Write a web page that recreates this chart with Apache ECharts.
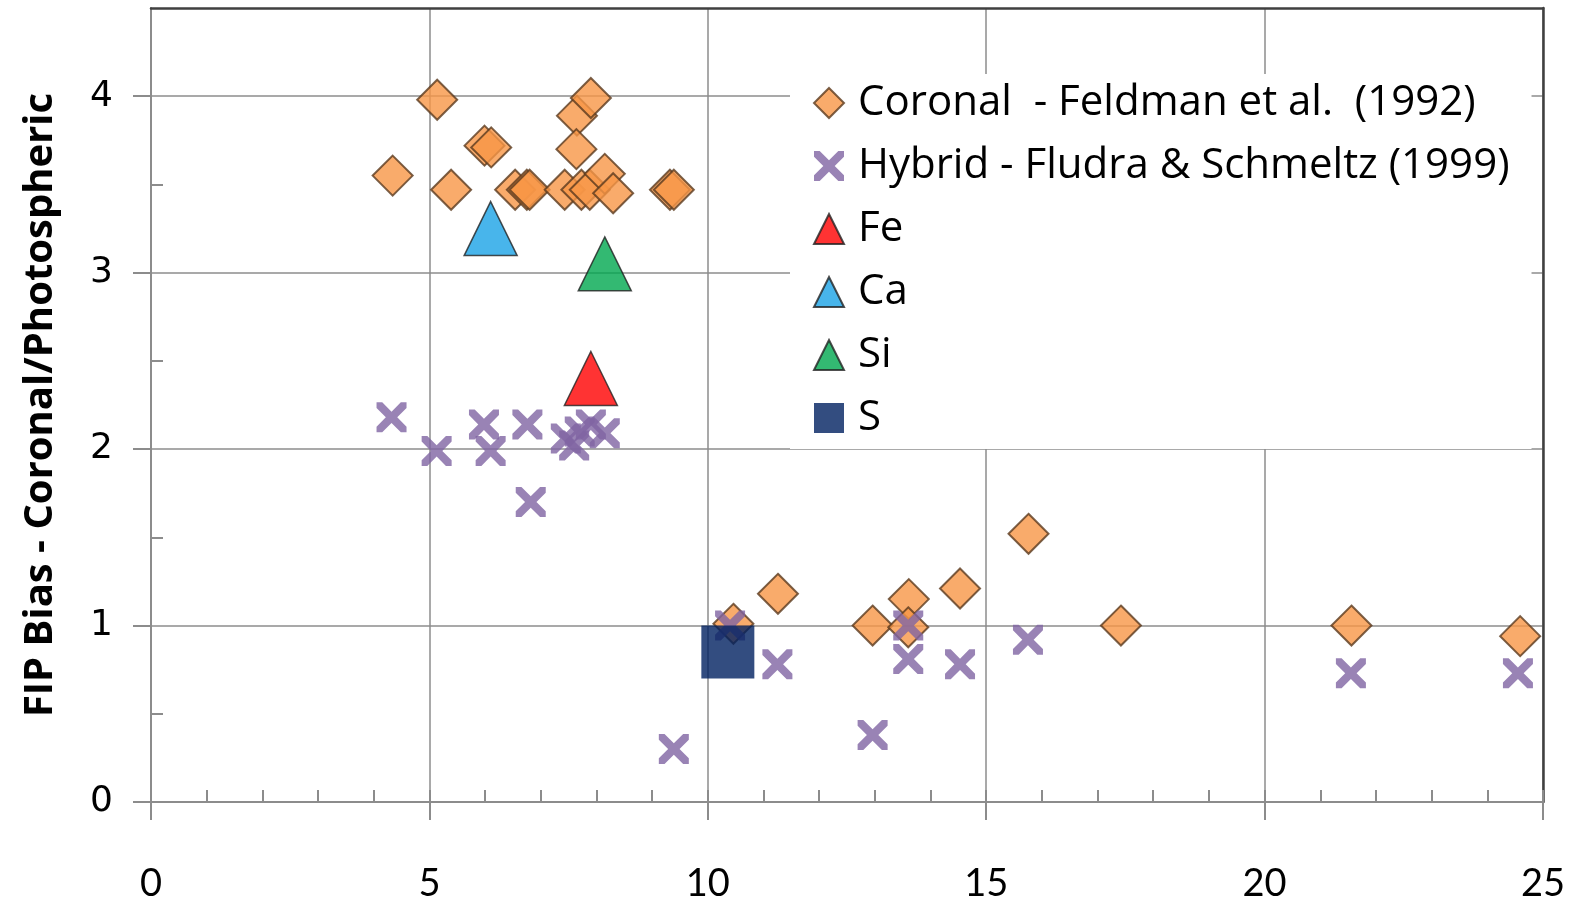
<!DOCTYPE html>
<html>
<head>
<meta charset="utf-8">
<script src="https://cdn.jsdelivr.net/npm/echarts@6/dist/echarts.min.js"></script>
<style>
  html, body { margin: 0; padding: 0; background: #fff; }
  #chart { width: 1578px; height: 899px; }
</style>
</head>
<body>
<div id="chart"></div>
<script>
// [FIP (eV), bias]
const coronalPoints = [
  [4.34, 3.55], [5.14, 3.98], [5.39, 3.47], [5.99, 3.72], [6.11, 3.71],
  [6.54, 3.47], [6.75, 3.47], [6.8, 3.47], [7.43, 3.47], [7.65, 3.89],
  [7.9, 3.99], [7.64, 3.7], [7.73, 3.47], [7.88, 3.47], [8.15, 3.56],
  [8.3, 3.45], [9.32, 3.47], [9.39, 3.47], [10.46, 1.01], [11.26, 1.18],
  [12.96, 1.0], [13.61, 1.15], [13.6, 0.99], [14.53, 1.21], [15.76, 1.52],
  [17.42, 1.0], [21.56, 1.0], [24.59, 0.94]
]
const hybridPoints = [
  [4.32, 2.18], [5.13, 1.99], [5.98, 2.14], [6.1, 1.99], [6.76, 2.14],
  [6.82, 1.7], [7.45, 2.06], [7.6, 2.02], [7.7, 2.1], [7.9, 2.14],
  [8.15, 2.09], [9.39, 0.3], [10.4, 1.0], [11.25, 0.78], [12.96, 0.38],
  [13.6, 1.0], [13.6, 0.81], [14.53, 0.78], [15.75, 0.92], [21.55, 0.73],
  [24.55, 0.73]
]
const fePoint = [[7.9, 2.4]]
const caPoint = [[6.1, 3.25]]
const siPoint = [[8.15, 3.05]]
const sPoint = [[10.36, 0.85]]

const yTickValues = [0, 1, 2, 3, 4]
const yMinorValues = [0.5, 1.5, 2.5, 3.5]

const seriesNames = [
  'Coronal  - Feldman et al.  (1992)',
  'Hybrid - Fludra & Schmeltz (1999)',
  'Fe',
  'Ca',
  'Si',
  'S'
]

const crossPath = 'path://M0,0 L1.9,0 L5,3.1 L8.1,0 L10,0 L10,1.9 L6.9,5 L10,8.1 L10,10 L8.1,10 L5,6.9 L1.9,10 L0,10 L0,8.1 L3.1,5 L0,1.9 Z'

const gridColor = '#8c8c8c'
const borderColor = '#404040'

const chart = echarts.init(document.getElementById('chart'))

// plain frame axes (top / right border of the plot area)
const frameAxis = {
  type: 'value',
  min: 0,
  axisLine: { show: true, onZero: false, lineStyle: { color: borderColor, width: 2.5 } },
  axisTick: { show: false },
  axisLabel: { show: false },
  splitLine: { show: false }
}

const option = {
  animation: false,
  backgroundColor: '#fff',
  grid: {
    left: 151,
    right: 35,
    top: 8,
    bottom: 97,
    outerBoundsMode: 'none'
  },
  legend: {
    orient: 'vertical',
    left: 790,
    top: 74,
    padding: [8, 22, 10, 23],
    backgroundColor: '#fff',
    itemWidth: 30,
    itemHeight: 30,
    itemGap: 21,
    selectedMode: false,
    textStyle: {
      fontFamily: 'Open Sans',
      fontSize: 42,
      lineHeight: 40,
      padding: [0, 0, 0, 9],
      color: '#000'
    },
    data: seriesNames
  },
  xAxis: [
    {
      type: 'value',
      position: 'bottom',
      min: 0,
      max: 25,
      interval: 5,
      axisLine: { show: true, onZero: false, lineStyle: { color: gridColor, width: 2 } },
      axisTick: { show: true, inside: false, length: 18, lineStyle: { color: gridColor, width: 2 } },
      axisLabel: { fontFamily: 'Lato', fontSize: 38, color: '#000', margin: 63 },
      splitLine: { show: true, lineStyle: { color: gridColor, width: 1.5 } }
    },
    {
      type: 'value',
      position: 'bottom',
      min: 0,
      max: 25,
      interval: 1,
      axisLine: { show: false, onZero: false },
      axisTick: { show: true, inside: true, length: 12, lineStyle: { color: gridColor, width: 2 } },
      axisLabel: { show: false },
      splitLine: { show: false }
    },
    Object.assign({}, frameAxis, { position: 'top', max: 25 })
  ],
  yAxis: [
    {
      type: 'value',
      position: 'left',
      min: 0,
      max: 4.5,
      interval: 1,
      name: 'FIP Bias - Coronal/Photospheric',
      nameLocation: 'middle',
      nameGap: 90,
      nameTextStyle: { fontFamily: 'Open Sans', fontSize: 40, fontWeight: 'bold', color: '#000' },
      axisLine: { show: true, onZero: false, lineStyle: { color: gridColor, width: 2 } },
      axisTick: { show: true, inside: false, length: 18, customValues: yTickValues, lineStyle: { color: gridColor, width: 2 } },
      axisLabel: { fontFamily: 'DejaVu Sans', fontSize: 36, color: '#000', margin: 38, customValues: yTickValues },
      splitLine: { show: true, lineStyle: { color: gridColor, width: 1.5 } }
    },
    {
      type: 'value',
      position: 'left',
      min: 0,
      max: 4.5,
      axisLine: { show: false, onZero: false },
      axisTick: { show: true, inside: true, length: 12, customValues: yMinorValues, lineStyle: { color: gridColor, width: 2 } },
      axisLabel: { show: false },
      splitLine: { show: false }
    },
    Object.assign({}, frameAxis, { position: 'right', max: 4.5 })
  ],
  series: [
    {
      name: seriesNames[0],
      type: 'scatter',
      symbol: 'diamond',
      symbolSize: 40,
      itemStyle: { color: '#f79646', borderColor: '#5a3a1e', borderWidth: 2 },
      data: coronalPoints
    },
    {
      name: seriesNames[1],
      type: 'scatter',
      symbol: crossPath,
      symbolSize: 30,
      itemStyle: { color: '#8064a2' },
      data: hybridPoints
    },
    {
      name: seriesNames[2],
      type: 'scatter',
      symbol: 'triangle',
      symbolSize: [53, 54],
      itemStyle: { color: '#ff0000', borderColor: '#222', borderWidth: 1.5 },
      data: fePoint
    },
    {
      name: seriesNames[3],
      type: 'scatter',
      symbol: 'triangle',
      symbolSize: [53, 54],
      itemStyle: { color: '#1aa3e6', borderColor: '#222', borderWidth: 1.5 },
      data: caPoint
    },
    {
      name: seriesNames[4],
      type: 'scatter',
      symbol: 'triangle',
      symbolSize: [53, 54],
      itemStyle: { color: '#00a84f', borderColor: '#222', borderWidth: 1.5 },
      data: siPoint
    },
    {
      name: seriesNames[5],
      type: 'scatter',
      symbol: 'rect',
      symbolSize: 53,
      itemStyle: { color: '#002060' },
      data: sPoint
    }
  ]
}

chart.setOption(option)

window.addEventListener('resize', () => {
  chart.resize()
})
</script>
</body>
</html>
